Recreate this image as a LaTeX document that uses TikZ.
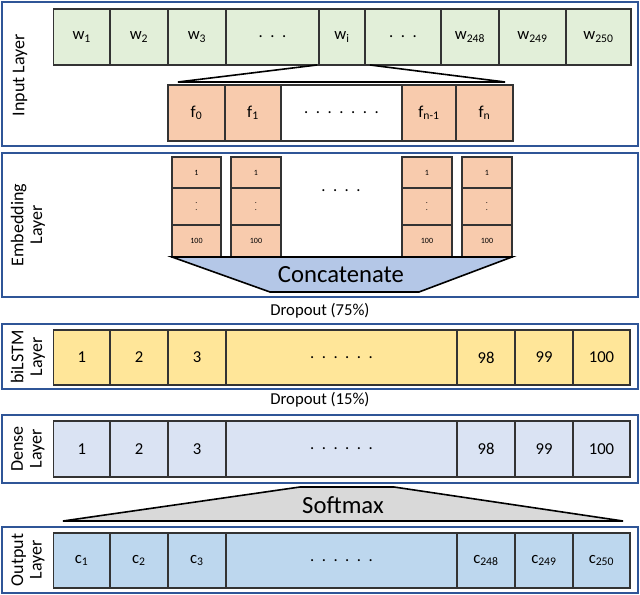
\documentclass[tikz,border=0pt]{standalone}
\usepackage{fontspec}
\setmainfont{Carlito}
\definecolor{frameblue}{HTML}{2F5597}
\definecolor{ingreen}{HTML}{E2EFD9}
\definecolor{featorange}{HTML}{F8CBAD}
\definecolor{lstmyellow}{HTML}{FFE699}
\definecolor{denseblue}{HTML}{DAE3F3}
\definecolor{outblue}{HTML}{BDD7EE}
\definecolor{concblue}{HTML}{B4C7E7}
\begin{document}
\begin{tikzpicture}[x=0.75pt,y=-0.75pt,
  frame/.style={draw=frameblue,line width=1.5pt},
  cell/.style={draw=black!80,line width=1pt},
  txt/.style={font=\fontsize{12.5}{13}\selectfont},
  small/.style={font=\fontsize{6}{7}\selectfont},
  side/.style={rotate=90,align=center,font=\fontsize{13.5}{14}\selectfont}]
\useasboundingbox (0,0) rectangle (640,595);

% frames
\draw[frame] (2,2) rectangle (638,146);
\draw[frame] (2,153) rectangle (638,297);
\draw[frame] (2,324) rectangle (638,389);
\draw[frame] (2,415) rectangle (638,483);
\draw[frame] (2,527) rectangle (638,593);

\node[side] (lin) at (20,75) {Input Layer};
\node[side] (lemb) at (28,225) {Embedding\\Layer};
\node[side] (llstm) at (28,357) {biLSTM\\Layer};
\node[side] (ldense) at (28,449) {Dense\\Layer};
\node[side] (lout) at (28,560) {Output\\Layer};

% input cells
\foreach \a/\b/\t in {53.5/110/{w\textsubscript{1}},110/168/{w\textsubscript{2}},168/226/{w\textsubscript{3}},226/319/{.\ \ .\ \ .},319/365/{w\textsubscript{i}},365/441/{.\ \ .\ \ .},441/499/{w\textsubscript{248}},499/566/{w\textsubscript{249}},566/631/{w\textsubscript{250}}}
  \draw[cell,fill=ingreen] (\a,9) rectangle (\b,65) node[midway,txt] {\t};

% zoom funnel
\draw[line width=1.2pt] (317,65) -- (178,82) -- (505,82) -- (370,65);

% feature cells
\foreach \a/\b/\t in {168/225/{f\textsubscript{0}},225/281/{f\textsubscript{1}},402/456/{f\textsubscript{n-1}},456/513/{f\textsubscript{n}}}
  \draw[cell,fill=featorange] (\a,85) rectangle (\b,141) node[midway,txt] {\t};
\draw[cell,fill=white] (281,85) rectangle (402,141) node[midway,txt] {.\ \ .\ \ .\ \ .\ \ .\ \ .\ \ .};

% embedding columns
\foreach \a/\b in {172/221,231/281,402/452,462/512}{
  \draw[cell,fill=featorange] (\a,157) rectangle (\b,188) node[midway,small] {1};
  \draw[cell,fill=featorange] (\a,188) rectangle (\b,225) node[midway,small,align=center] {.\\[-2pt].};
  \draw[cell,fill=featorange] (\a,225) rectangle (\b,257) node[midway,small] {100};
}
\node[txt] (edots) at (341,191) {.\ \ .\ \ .\ \ .};

% concatenate
\draw[line width=1.2pt,fill=concblue] (172,257) -- (512,257) -- (419,292) -- (270,292) -- cycle;
\node[font=\fontsize{18.5}{19}\selectfont] (conc) at (341,275) {Concatenate};

\node[txt] (d75) at (320,311) {Dropout (75\%)};

% biLSTM
\foreach \a/\b/\t in {53.5/110/1,110/168/2,168/226/3,226/457/{.\ \ .\ \ .\ \ .\ \ .\ \ .},457/515/98,515/573/99,573/630/100}
  \draw[cell,fill=lstmyellow] (\a,330) rectangle (\b,385) node[midway,txt] {\t};

\node[txt] (d15) at (320,400) {Dropout (15\%)};

% dense
\foreach \a/\b/\t in {53.5/110/1,110/168/2,168/226/3,226/457/{.\ \ .\ \ .\ \ .\ \ .\ \ .},457/515/98,515/573/99,573/630/100}
  \draw[cell,fill=denseblue] (\a,421) rectangle (\b,477) node[midway,txt] {\t};

% softmax
\draw[line width=1.2pt,fill=black!15] (300,487) -- (394,487) -- (623,521) -- (63,521) -- cycle;
\node[font=\fontsize{18.5}{19}\selectfont] (soft) at (343,505) {Softmax};

% output
\foreach \a/\b/\t in {53.5/110/{c\textsubscript{1}},110/168/{c\textsubscript{2}},168/226/{c\textsubscript{3}},226/457/{.\ \ .\ \ .\ \ .\ \ .\ \ .},457/515/{c\textsubscript{248}},515/573/{c\textsubscript{249}},573/630/{c\textsubscript{250}}}
  \draw[cell,fill=outblue] (\a,533) rectangle (\b,588) node[midway,txt] {\t};
\end{tikzpicture}
\end{document}
